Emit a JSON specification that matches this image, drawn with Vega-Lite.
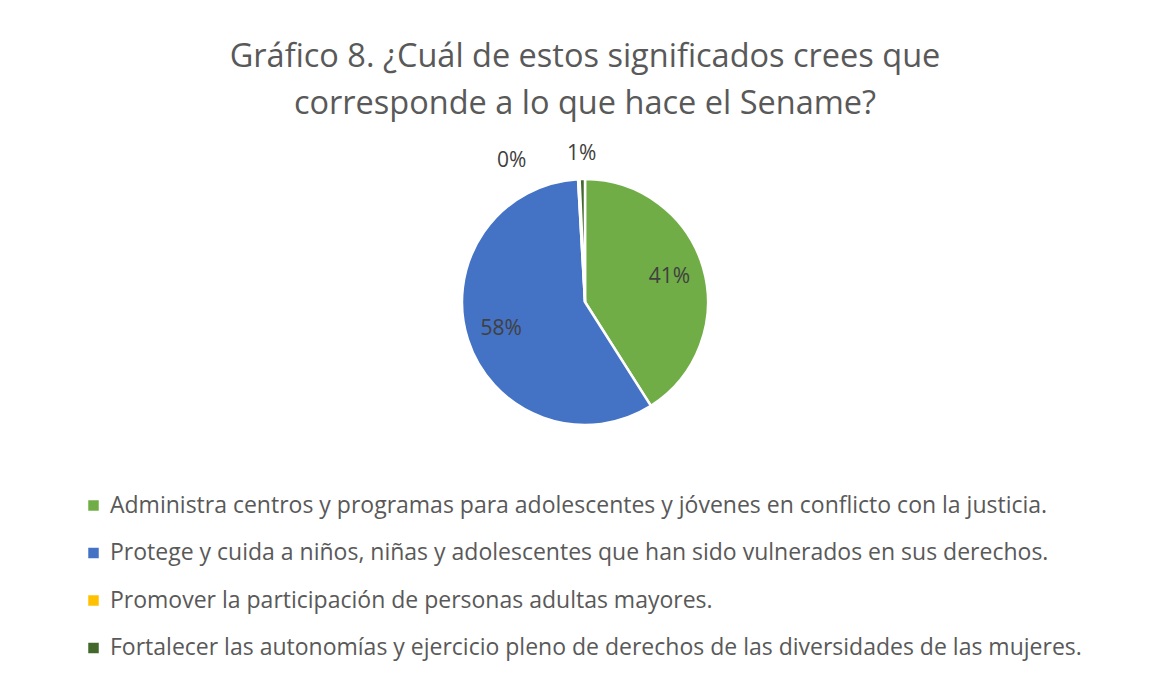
{
  "$schema": "https://vega.github.io/schema/vega-lite/v6.json",
  "autosize": "none",
  "width": 1108,
  "height": 344,
  "padding": {"left": 31, "right": 10, "top": 130, "bottom": 202},
  "background": "white",
  "title": {
    "text": ["Gráfico 8. ¿Cuál de estos significados crees que", "corresponde a lo que hace el Sename?"],
    "anchor": "middle",
    "frame": "group",
    "font": "Open Sans",
    "fontSize": 32.5,
    "fontWeight": "normal",
    "color": "#595959",
    "lineHeight": 47,
    "offset": 10
  },
  "data": {
    "values": [
      {"categoria": "Administra centros y programas para adolescentes y jóvenes en conflicto con la justicia.", "pct": 0.41, "n": 1},
      {"categoria": "Protege y cuida a niños, niñas y adolescentes que han sido vulnerados en sus derechos.", "pct": 0.581, "n": 2},
      {"categoria": "Promover la participación de personas adultas mayores.", "pct": 0.002, "n": 3},
      {"categoria": "Fortalecer las autonomías y ejercicio pleno de derechos de las diversidades de las mujeres.", "pct": 0.007, "n": 4}
    ]
  },
  "encoding": {
    "theta": {"field": "pct", "type": "quantitative", "stack": true},
    "order": {"field": "n", "type": "quantitative"},
    "color": {
      "field": "categoria",
      "type": "nominal",
      "sort": null,
      "scale": {
        "domain": [
          "Administra centros y programas para adolescentes y jóvenes en conflicto con la justicia.",
          "Protege y cuida a niños, niñas y adolescentes que han sido vulnerados en sus derechos.",
          "Promover la participación de personas adultas mayores.",
          "Fortalecer las autonomías y ejercicio pleno de derechos de las diversidades de las mujeres."
        ],
        "range": ["#70AD47", "#4472C4", "#FFC000", "#43682B"]
      },
      "legend": {
        "title": null,
        "orient": "none",
        "legendX": 51,
        "legendY": 364,
        "direction": "vertical",
        "symbolType": "square",
        "symbolSize": 110,
        "symbolStrokeWidth": 0,
        "labelFont": "Open Sans",
        "labelFontSize": 23,
        "labelColor": "#595959",
        "labelLimit": 1100,
        "labelOffset": 5,
        "rowPadding": 23.5,
        "padding": 0
      }
    }
  },
  "layer": [
    {
      "mark": {"type": "arc", "outerRadius": 123, "stroke": "white", "strokeWidth": 2.5}
    },
    {
      "mark": {"type": "text", "radius": 88, "font": "Open Sans", "fontSize": 21, "color": "#404040"},
      "encoding": {
        "text": {"condition": {"test": "datum.pct < 0.05", "value": ""}, "field": "pct", "format": ".0%"},
        "color": {"value": "#404040"}
      }
    },
    {
      "mark": {"type": "text", "radius": 148, "font": "Open Sans", "fontSize": 21, "color": "#404040"},
      "encoding": {
        "text": {"condition": {"test": "datum.n != 4", "value": ""}, "field": "pct", "format": ".0%"},
        "color": {"value": "#404040"}
      }
    },
    {
      "mark": {"type": "text", "radius": 148, "dx": -66, "dy": 7, "font": "Open Sans", "fontSize": 21, "color": "#404040"},
      "encoding": {
        "text": {"condition": {"test": "datum.n != 3", "value": ""}, "field": "pct", "format": ".0%"},
        "color": {"value": "#404040"}
      }
    }
  ],
  "config": {"view": {"stroke": null}}
}
